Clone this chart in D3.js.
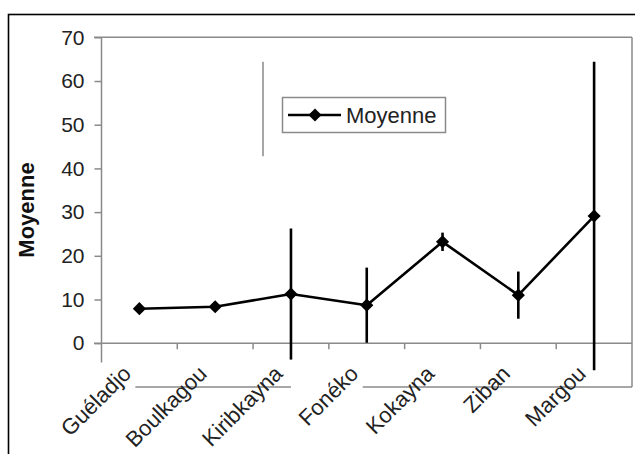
<!DOCTYPE html>
<html><head><meta charset="utf-8">
<script src="https://cdn.jsdelivr.net/npm/d3@7"></script>
<style>
html,body{margin:0;padding:0;background:#fff;}
svg{display:block;font-family:"Liberation Sans",Arial,sans-serif;}
</style></head>
<body>
<svg id="chart" width="635" height="454"></svg>
<script>
const categories = ["Guéladjo","Boulkagou","Kiribkayna","Fonéko","Kokayna","Ziban","Margou"];
const means = [7.9, 8.35, 11.25, 8.7, 23.2, 11.0, 29.1];
const errors = [0, 0, 15.0, 8.6, 2.1, 5.4, 35.3];
const yTicks = [0,10,20,30,40,50,60,70];
const seriesName = "Moyenne";
const yTitle = "Moyenne";

(function(){
const svg = d3.select("#chart");
const W = 635, H = 454;
svg.append("rect").attr("width",W).attr("height",H).attr("fill","#fff");
// outer frame
svg.append("rect").attr("x",8.5).attr("y",14.5).attr("width",W).attr("height",H)
  .attr("fill","none").attr("stroke","#000").attr("stroke-width",1.6);

const pLeft = 101.5, pRight = 632, pTop = 37.3, zeroY = 343.2;
const x = d3.scaleBand().domain(categories).range([pLeft,pRight]).padding(0);
const y = d3.scaleLinear().domain([0,70]).range([zeroY, pTop]);
const cx = c => x(c) + x.bandwidth()/2;
const grey = "#8a8a8a";

// plot area border (top, right, bottom segments)
svg.append("line").attr("x1",94).attr("x2",pRight).attr("y1",y(70)).attr("y2",y(70)).attr("stroke",grey).attr("stroke-width",1.5);
svg.append("line").attr("x1",pRight).attr("x2",pRight).attr("y1",y(70)).attr("y2",387).attr("stroke",grey).attr("stroke-width",1.5);
svg.append("line").attr("x1",cx(categories[0])-4).attr("x2",cx(categories[2])).attr("y1",387).attr("y2",387).attr("stroke",grey).attr("stroke-width",1.5);
svg.append("line").attr("x1",cx(categories[3])-4).attr("x2",pRight).attr("y1",387).attr("y2",387).attr("stroke",grey).attr("stroke-width",1.5);

// y axis
const yAxis = d3.axisLeft(y).tickValues(yTicks).tickSize(7).tickPadding(10).tickFormat(d3.format("d"));
const gy = svg.append("g").attr("transform",`translate(${pLeft},0)`).call(yAxis);
gy.select(".domain").remove();
gy.selectAll(".tick line").attr("stroke",grey).attr("stroke-width",1.5);
gy.selectAll(".tick text").attr("font-size",21).attr("fill","#222").attr("font-family","Liberation Sans, Arial, sans-serif");
svg.append("line").attr("x1",pLeft).attr("x2",pLeft).attr("y1",y(70)).attr("y2",y(-4.4)).attr("stroke",grey).attr("stroke-width",1.5);

// x axis (zero line)
svg.append("line").attr("x1",94).attr("x2",pRight).attr("y1",y(0)).attr("y2",y(0)).attr("stroke",grey).attr("stroke-width",1.5);
svg.append("g").selectAll("line").data(categories.slice(1)).join("line")
  .attr("x1",d=>x(d)).attr("x2",d=>x(d)).attr("y1",y(0)).attr("y2",y(0)+6)
  .attr("stroke",grey).attr("stroke-width",1.5);

// x labels
svg.append("g").selectAll("text").data(categories).join("text")
  .attr("transform",d=>`translate(${cx(d)-7},375) rotate(-45)`)
  .attr("text-anchor","end").attr("font-size",22).attr("fill","#222")
  .text(d=>d);

// stray vertical line
svg.append("line").attr("x1",263).attr("x2",263).attr("y1",y(64.4)).attr("y2",y(42.8)).attr("stroke","#777").attr("stroke-width",1.3);

// error bars
svg.append("g").selectAll("line").data(categories.map((c,i)=>({c,m:means[i],e:errors[i]})).filter(d=>d.e>0)).join("line")
  .attr("x1",d=>cx(d.c)).attr("x2",d=>cx(d.c)).attr("y1",d=>y(d.m+d.e)).attr("y2",d=>y(d.m-d.e))
  .attr("stroke","#000").attr("stroke-width",2.6);

// line
const line = d3.line().x((d,i)=>cx(categories[i])).y(d=>y(d));
svg.append("path").datum(means).attr("d",line).attr("fill","none").attr("stroke","#000").attr("stroke-width",2.6).attr("stroke-linejoin","round");
const diamond = d3.symbol().type(d3.symbolDiamond2).size(110);
svg.append("g").selectAll("path").data(means).join("path")
  .attr("transform",(d,i)=>`translate(${cx(categories[i])},${y(d)})`)
  .attr("d",diamond).attr("fill","#000");

// y title
svg.append("text").attr("transform",`translate(34,210) rotate(-90)`).attr("text-anchor","middle")
  .attr("font-size",22).attr("font-weight","bold").attr("fill","#111").text(yTitle);

// legend
const lg = svg.append("g").attr("transform","translate(282,97)");
lg.append("rect").attr("x",0.5).attr("y",0.5).attr("width",163).attr("height",35).attr("fill","#fff").attr("stroke",grey).attr("stroke-width",1.5);
lg.append("line").attr("x1",6).attr("x2",59).attr("y1",18).attr("y2",18).attr("stroke","#000").attr("stroke-width",2.6);
lg.append("path").attr("transform","translate(33,18)").attr("d",diamond).attr("fill","#000");
lg.append("text").attr("x",64).attr("y",26).attr("font-size",22).attr("fill","#222").text(seriesName);
})();
</script>
</body></html>
